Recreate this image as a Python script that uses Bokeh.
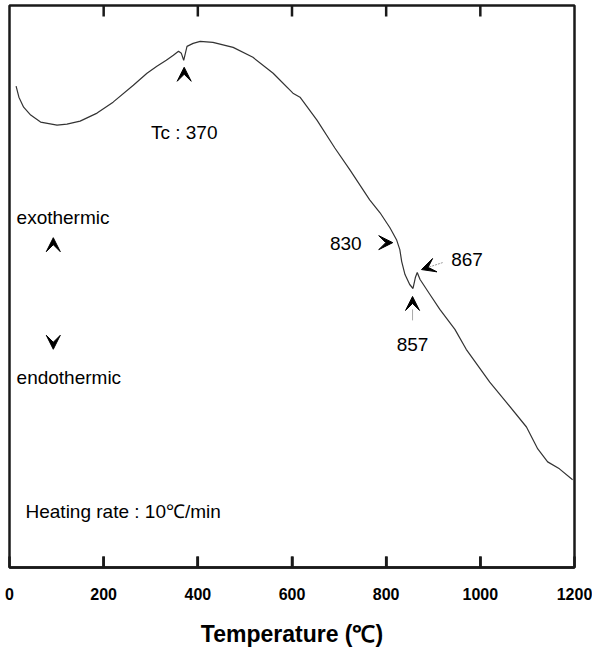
from bokeh.plotting import figure
from bokeh.models import Range1d, FixedTicker, Arrow, VeeHead, Label
from bokeh.embed import file_html
from bokeh.resources import INLINE

# DTA curve (temperature in degC, signal in arbitrary units)
temperature = [14, 20, 30, 45, 66, 101, 122, 150, 186, 220, 263, 292, 313, 333, 348,
               359, 365, 370, 374, 377, 390, 405, 432, 475, 517, 560, 602, 617, 653, 691,
               723, 765, 787, 808, 822, 829, 833, 840, 850, 857, 862, 866, 872, 893, 914,
               946, 970, 1020, 1055, 1098, 1122, 1143, 1168, 1196]
signal = [482, 471, 461, 453, 446, 443, 444, 447, 455, 466, 483, 495, 502, 508, 513,
          517, 515, 508, 516, 522, 525, 527, 526, 521, 511, 495, 475, 471, 448, 420,
          398, 368, 355, 340, 328, 318, 306, 293, 283, 279, 290, 295, 288, 273, 258,
          238, 218, 185, 165, 140, 118, 105, 98, 87]
x_ticks = [0, 200, 400, 600, 800, 1000, 1200]

FONT = "Liberation Sans"
Y_MIN, Y_MAX = -1, 563
TICK = 11  # inward tick length (y units ~ px)

p = figure(width=592, height=649, output_backend="svg", toolbar_location=None,
           x_range=Range1d(0, 1200), y_range=Range1d(Y_MIN, Y_MAX),
           y_axis_location=None, min_border_left=9, min_border_right=18,
           min_border_top=5, background_fill_color="white", border_fill_color="white")
p.grid.visible = False
p.outline_line_color = "#1a1a1a"
p.outline_line_width = 2.5

xa = p.xaxis[0]
xa.ticker = FixedTicker(ticks=x_ticks)
xa.major_tick_in = 11
xa.major_tick_out = 0
xa.major_tick_line_width = 2.5
xa.major_tick_line_color = "#1a1a1a"
xa.minor_tick_line_color = None
xa.axis_line_width = 2.5
xa.axis_line_color = "#1a1a1a"
xa.major_label_text_font = FONT
xa.major_label_text_font_style = "bold"
xa.major_label_text_font_size = "16px"
xa.major_label_text_color = "black"
xa.major_label_standoff = 20
xa.axis_label = "Temperature (℃)"
xa.axis_label_text_font = FONT
xa.axis_label_text_font_style = "bold"
xa.axis_label_text_font_size = "23px"
xa.axis_label_text_color = "black"
xa.axis_label_standoff = 18

# inward tick marks on the bottom and top edges of the frame
inner = [t for t in x_ticks if 0 < t < 1200]
p.segment(x0=inner, y0=[Y_MIN] * len(inner), x1=inner, y1=[Y_MIN + TICK] * len(inner),
          line_color="#1a1a1a", line_width=2.5)
p.segment(x0=inner, y0=[Y_MAX] * len(inner), x1=inner, y1=[Y_MAX - TICK] * len(inner),
          line_color="#1a1a1a", line_width=2.5)

p.line(temperature, signal, line_color="#333333", line_width=1.2)


def arrow(x0, y0, x1, y1, shaft_color=None):
    p.add_layout(Arrow(end=VeeHead(size=14, fill_color="black", line_color="black", line_width=1),
                       x_start=x0, y_start=y0, x_end=x1, y_end=y1,
                       line_color=shaft_color if shaft_color else "white",
                       line_alpha=1 if shaft_color else 0,
                       line_width=1, line_dash="2 1" if shaft_color else "solid"))


def label(x, y, text, align="left"):
    p.add_layout(Label(x=x, y=y, text=text, text_font=FONT, text_font_size="19px",
                       text_color="black", text_align=align, text_baseline="middle"))


arrow(371, 486, 371, 501)
label(371, 436, "Tc : 370", "center")

arrow(780, 325, 814, 325)
label(748, 324, "830", "right")

p.segment(x0=[856], y0=[247], x1=[856], y1=[258], line_color="#aaaaaa", line_width=1)
arrow(856, 255, 856, 271)
label(856, 223, "857", "center")

arrow(920, 305, 875, 298, shaft_color="#999999")
label(938, 308, "867", "left")

label(15, 350, "exothermic")
arrow(93, 315, 93, 330)
arrow(93, 233, 93, 218)
label(15, 190, "endothermic")

label(34, 55, "Heating rate : 10℃/min")

open("out.html", "w").write(file_html(p, INLINE))
